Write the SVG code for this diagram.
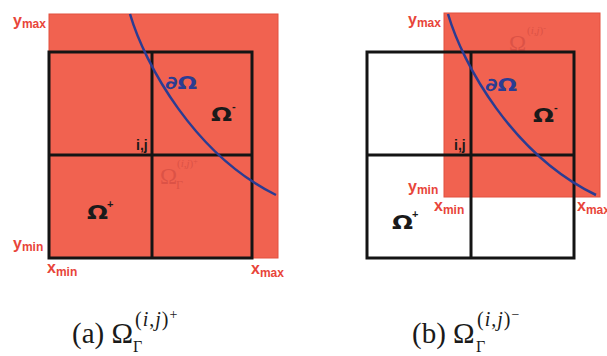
<svg xmlns="http://www.w3.org/2000/svg" width="607" height="356" viewBox="0 0 607 356">
<style>
.region{fill:#F16250;stroke:#E2503F;stroke-width:1}
.grid{fill:none;stroke:#141414;stroke-width:3}
.curve{fill:none;stroke:#2B3C92;stroke-width:2.5}
.lbl{font-family:"Liberation Sans",Arial,sans-serif;font-weight:bold;fill:#E8453A}
.sub{font-size:12px}
.main{font-size:16px}
.om{font-family:"DejaVu Sans","Liberation Sans",sans-serif;font-weight:bold;font-size:19px;fill:#1a1a1a}
.sup{font-family:"Liberation Sans",Arial,sans-serif;font-weight:bold;font-size:11px;fill:#1a1a1a}
.dom{font-family:"DejaVu Sans","Liberation Sans",sans-serif;font-weight:bold;font-size:18px;fill:#2B3C92}
.ij{font-family:"Liberation Sans",Arial,sans-serif;font-weight:bold;font-size:14px;fill:#1a1a1a}
.faint{font-family:"Liberation Serif","Times New Roman",serif;fill:#DC5246}
.cap{font-family:"Liberation Serif","Times New Roman",serif;fill:#1a1a1a}
.it{font-style:italic}
</style>
<g id="panel-a">
  <rect class="region" x="49" y="14" width="229" height="244"/>
  <text class="faint" x="160" y="184" font-size="23">Ω</text>
  <text class="faint" x="176" y="189" font-size="12">Γ</text>
  <text class="faint" x="177" y="167" font-size="11">(<tspan class="it">i</tspan>,<tspan class="it">j</tspan>)<tspan font-size="8" dy="-3">+</tspan></text>
  <g class="grid">
    <rect x="49" y="52" width="203" height="206"/>
    <line x1="152" y1="52" x2="152" y2="258"/>
    <line x1="49" y1="155" x2="252" y2="155"/>
  </g>
  <path class="curve" d="M130,14 C145,65 195,155 276,195"/>
  <text class="dom" x="165" y="89" textLength="32" lengthAdjust="spacingAndGlyphs">∂Ω</text>
  <text class="om" x="211" y="121" textLength="21" lengthAdjust="spacingAndGlyphs">Ω</text>
  <text class="sup" x="232" y="110">-</text>
  <text class="ij" x="136" y="150">i,j</text>
  <text class="om" x="87" y="219" textLength="21" lengthAdjust="spacingAndGlyphs">Ω</text>
  <text class="sup" x="107" y="208">+</text>
  <text class="lbl" x="13" y="26"><tspan class="main">y</tspan><tspan class="sub" dy="2">max</tspan></text>
  <text class="lbl" x="13" y="249"><tspan class="main">y</tspan><tspan class="sub" dy="2">min</tspan></text>
  <text class="lbl" x="47" y="273"><tspan class="main">x</tspan><tspan class="sub" dy="3">min</tspan></text>
  <text class="lbl" x="251" y="274"><tspan class="main">x</tspan><tspan class="sub" dy="3">max</tspan></text>
</g>
<g id="panel-b">
  <rect x="367" y="52" width="207" height="206" fill="#ffffff"/>
  <rect class="region" x="444" y="13" width="156" height="184"/>
  <text class="faint" x="509" y="51" font-size="23">Ω</text>
  <text class="faint" x="527" y="34" font-size="11">(<tspan class="it">i</tspan>,<tspan class="it">j</tspan>)<tspan font-size="8" dy="-3">-</tspan></text>
  <g class="grid">
    <rect x="367" y="52" width="207" height="206"/>
    <line x1="471" y1="52" x2="471" y2="258"/>
    <line x1="367" y1="155" x2="574" y2="155"/>
  </g>
  <path class="curve" d="M448,14 C463,65 513,155 596,195"/>
  <text class="dom" x="485" y="91" textLength="32" lengthAdjust="spacingAndGlyphs">∂Ω</text>
  <text class="om" x="533" y="122" textLength="21" lengthAdjust="spacingAndGlyphs">Ω</text>
  <text class="sup" x="554" y="111">-</text>
  <text class="ij" x="454" y="150">i,j</text>
  <text class="om" x="392" y="229" textLength="21" lengthAdjust="spacingAndGlyphs">Ω</text>
  <text class="sup" x="412" y="218">+</text>
  <text class="lbl" x="408" y="25"><tspan class="main">y</tspan><tspan class="sub" dy="2">max</tspan></text>
  <text class="lbl" x="408" y="192"><tspan class="main">y</tspan><tspan class="sub" dy="2">min</tspan></text>
  <text class="lbl" x="434" y="211"><tspan class="main">x</tspan><tspan class="sub" dy="3">min</tspan></text>
  <text class="lbl" x="577" y="211"><tspan class="main">x</tspan><tspan class="sub" dy="3">max</tspan></text>
</g>
<g id="captions">
  <text class="cap" x="72" y="343" font-size="29">(a) Ω</text>
  <text class="cap" x="133" y="352" font-size="16">Γ</text>
  <text class="cap" x="135" y="326" font-size="20" letter-spacing="1">(<tspan class="it">i</tspan>,<tspan class="it">j</tspan>)<tspan font-size="14" dy="-7">+</tspan></text>
  <text class="cap" x="412" y="343" font-size="29">(b) Ω</text>
  <text class="cap" x="476" y="352" font-size="16">Γ</text>
  <text class="cap" x="477" y="326" font-size="20" letter-spacing="1">(<tspan class="it">i</tspan>,<tspan class="it">j</tspan>)<tspan font-size="14" dy="-7">−</tspan></text>
</g>
</svg>
